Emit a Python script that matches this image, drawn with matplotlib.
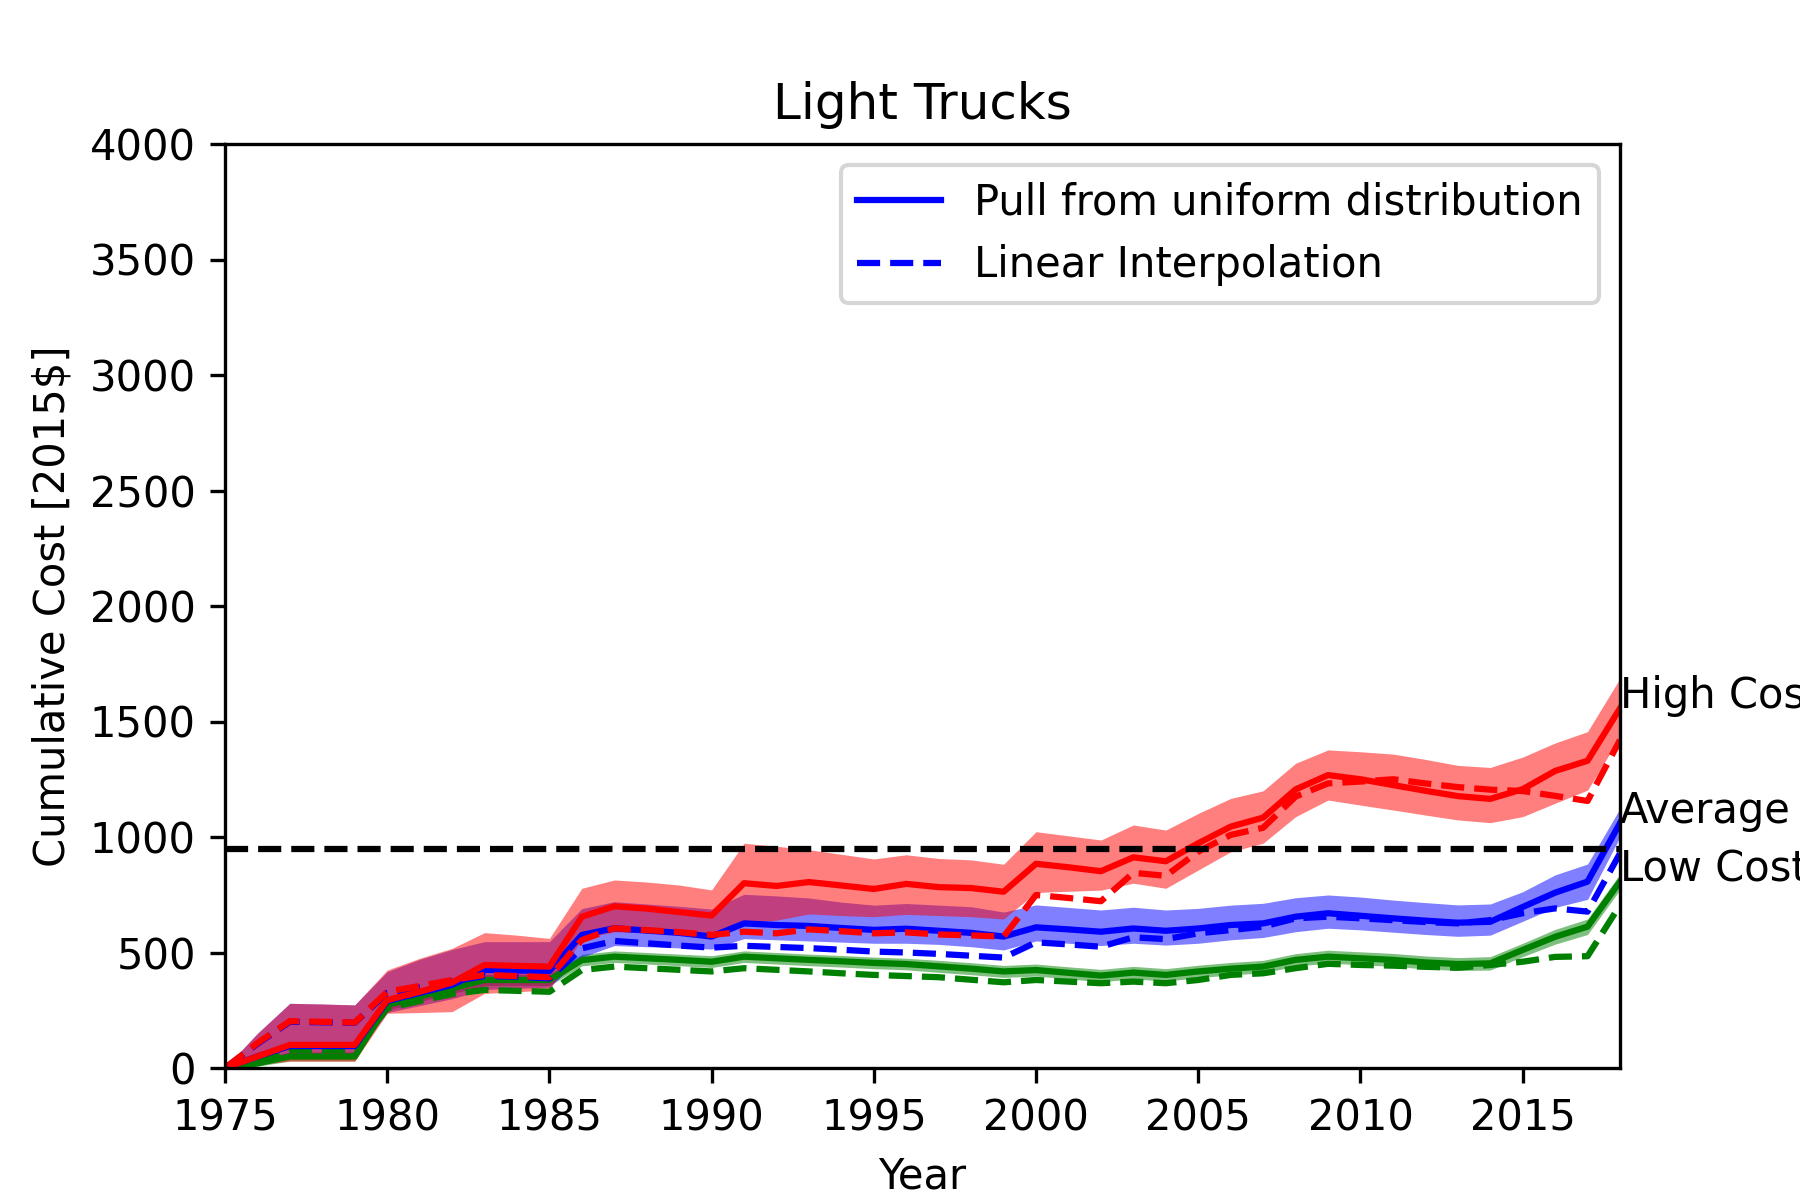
import numpy as np
import matplotlib
matplotlib.use("Agg")
import matplotlib.pyplot as plt

years = list(range(1975, 2019))

high_mean = [0, 50, 100, 100, 100, 294, 330, 370, 446, 442, 439, 655, 700, 690, 675, 660,
             800, 788, 805, 790, 775, 797, 783, 779, 763, 884, 869, 852, 912, 895, 973,
             1045, 1084, 1206, 1268, 1250, 1225, 1200, 1177, 1165, 1207, 1286, 1330, 1557]
high_upper = [0, 150, 280, 277, 273, 424, 475, 518, 586, 575, 561, 778, 814, 805, 792, 771,
              973, 960, 945, 925, 905, 923, 907, 901, 882, 1023, 1005, 987, 1052, 1030, 1102,
              1167, 1200, 1319, 1377, 1369, 1359, 1336, 1310, 1301, 1346, 1407, 1456, 1687]
high_lower = [0, 15, 30, 30, 30, 237, 240, 244, 323, 330, 338, 560, 590, 585, 580, 575,
              633, 640, 667, 660, 655, 665, 660, 655, 645, 760, 765, 770, 800, 778, 857,
              936, 973, 1088, 1160, 1138, 1117, 1095, 1074, 1062, 1088, 1146, 1203, 1434]
high_linear = [0, 108, 203, 200, 197, 330, 355, 381, 403, 398, 393, 554, 605, 597, 588, 576,
               590, 583, 600, 592, 583, 587, 578, 574, 569, 749, 736, 722, 845, 832, 937,
               1009, 1040, 1175, 1232, 1240, 1250, 1232, 1216, 1205, 1199, 1178, 1156, 1420]

avg_mean = [0, 50, 95, 95, 95, 290, 325, 360, 425, 422, 420, 576, 605, 595, 585, 569,
            626, 619, 615, 606, 598, 603, 594, 585, 569, 609, 600, 590, 604, 594, 604,
            619, 626, 655, 670, 659, 648, 638, 629, 633, 697, 759, 807, 1060]
avg_upper = [0, 150, 280, 277, 273, 417, 470, 513, 547, 547, 547, 690, 720, 710, 700, 688,
             752, 745, 736, 718, 705, 712, 705, 698, 675, 706, 695, 684, 696, 684, 691,
             705, 713, 737, 749, 740, 727, 716, 706, 710, 763, 836, 883, 1124]
avg_lower = [0, 20, 50, 50, 50, 240, 270, 300, 340, 345, 350, 480, 530, 525, 520, 515,
             560, 555, 550, 545, 540, 540, 535, 525, 511, 550, 540, 530, 540, 532, 540,
             555, 565, 590, 605, 598, 588, 578, 570, 575, 635, 695, 730, 1000]
avg_linear = [0, 105, 200, 198, 196, 325, 350, 375, 398, 395, 388, 518, 550, 540, 530, 521,
              529, 524, 519, 512, 504, 500, 494, 486, 478, 544, 535, 525, 566, 558, 583,
              597, 612, 648, 655, 648, 640, 632, 626, 640, 670, 691, 677, 929]

low_mean = [0, 20, 50, 50, 50, 273, 310, 345, 381, 381, 381, 467, 482, 475, 468, 460,
            482, 475, 468, 462, 455, 450, 440, 430, 418, 424, 412, 400, 413, 403, 418,
            430, 439, 468, 482, 475, 468, 457, 450, 453, 511, 568, 612, 807]
low_upper = [0, 35, 70, 70, 70, 295, 332, 368, 405, 405, 405, 492, 507, 500, 493, 486,
             507, 500, 493, 487, 480, 475, 466, 456, 444, 450, 438, 427, 440, 430, 445,
             457, 466, 495, 510, 503, 496, 485, 478, 482, 540, 600, 645, 840]
low_lower = [0, 8, 30, 30, 30, 250, 288, 322, 357, 357, 357, 442, 457, 450, 443, 435,
             457, 450, 443, 437, 430, 425, 414, 404, 392, 398, 386, 373, 386, 376, 391,
             403, 412, 441, 454, 447, 440, 429, 422, 424, 482, 536, 578, 772]
low_linear = [0, 40, 78, 78, 78, 258, 290, 320, 338, 334, 330, 424, 439, 432, 425, 418,
              432, 425, 418, 410, 403, 398, 393, 382, 371, 381, 374, 367, 374, 367, 381,
              403, 410, 432, 451, 446, 443, 438, 434, 446, 460, 481, 484, 705]

threshold = 950
scenario_names = ["Low Cost", "Average", "High Cost"]
legend_labels = ["Pull from uniform distribution", "Linear Interpolation"]

fig, ax = plt.subplots(figsize=(6, 4), dpi=300)

scenarios = [
    (low_mean, low_lower, low_upper, low_linear, "g"),
    (avg_mean, avg_lower, avg_upper, avg_linear, "b"),
    (high_mean, high_lower, high_upper, high_linear, "r"),
]

for i, (mean, lo, hi, lin, col) in enumerate(scenarios):
    is_avg = (col == "b")
    ax.plot(years, mean, color=col, lw=1.5, label=legend_labels[0] if is_avg else None)
    ax.plot(years, lin, color=col, lw=1.5, ls="--", label=legend_labels[1] if is_avg else None)
    ax.fill_between(years, lo, hi, color=col, alpha=0.5, lw=0)

ax.plot([years[0], years[-1]], [threshold, threshold], "k--", lw=1.5)

ax.text(years[-1], high_mean[-1], scenario_names[2], fontsize=10)
ax.text(years[-1], avg_mean[-1], scenario_names[1], fontsize=10)
ax.text(years[-1], low_mean[-1], scenario_names[0], fontsize=10)

ax.set_xlim(1975, 2018)
ax.set_ylim(0, 4000)
ax.set_title("Light Trucks", fontsize=12)
ax.set_xlabel("Year", fontsize=10)
ax.set_ylabel("Cumulative Cost [2015\\$]", fontsize=10)
ax.legend(loc="upper right", fontsize=10)

fig.savefig("out.png", dpi=300)
